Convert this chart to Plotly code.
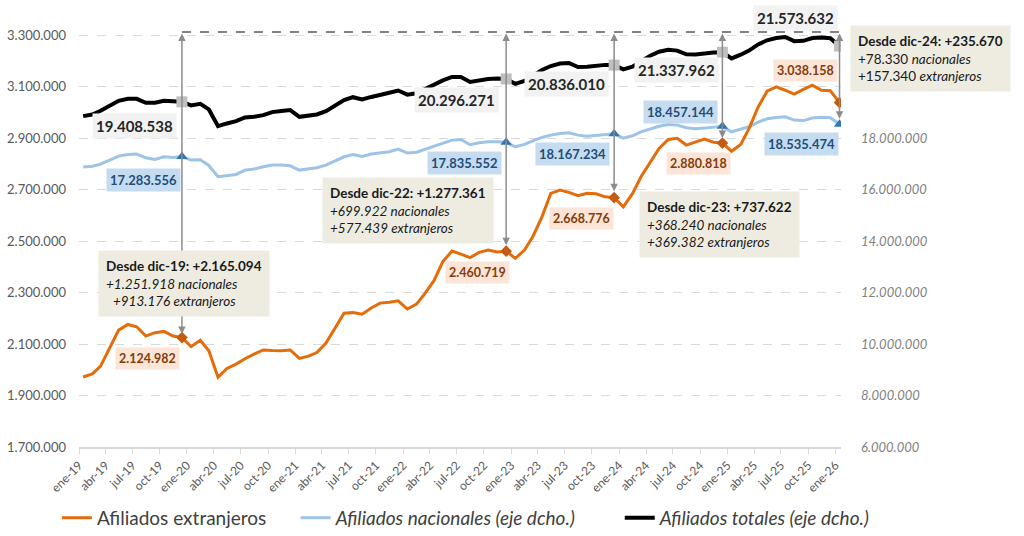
import plotly.graph_objects as go
import pandas as pd

# afiliados medios mensuales, ene-19 ... ene-26 (85 meses)
extranjeros = [
    1972000, 1984000, 2014000, 2083000, 2154000, 2176000, 2167000, 2131000, 2144000, 2149000, 2131000, 2124982,
    2090000, 2115000, 2074000, 1971000, 2005000, 2022000, 2043000, 2061000, 2077000, 2075000, 2074000, 2077000,
    2044000, 2053000, 2067000, 2104000, 2163000, 2220000, 2222000, 2216000, 2240000, 2259000, 2262000, 2268000,
    2236000, 2255000, 2296000, 2346000, 2420000, 2461000, 2449000, 2436000, 2456000, 2465000, 2458000, 2460719,
    2433000, 2465000, 2517000, 2594000, 2685000, 2698000, 2689000, 2676000, 2686000, 2684000, 2672000, 2668776,
    2633000, 2684000, 2750000, 2808000, 2860000, 2895000, 2899000, 2873000, 2884000, 2896000, 2884000, 2880818,
    2849000, 2875000, 2937000, 3021000, 3082000, 3099000, 3086000, 3071000, 3089000, 3106000, 3086000, 3084000,
    3038158,
]
nacionales = [
    16874000, 16905000, 16990000, 17146000, 17301000, 17365000, 17379000, 17236000, 17172000, 17275000, 17249000, 17283556,
    17146000, 17160000, 16938000, 16498000, 16536000, 16588000, 16757000, 16796000, 16886000, 16951000, 16951000, 16925000,
    16757000, 16796000, 16848000, 16951000, 17125000, 17275000, 17360000, 17285000, 17379000, 17437000, 17469000, 17575000,
    17420000, 17450000, 17560000, 17702000, 17810000, 17920000, 17948000, 17741000, 17819000, 17857000, 17857000, 17835552,
    17663000, 17754000, 17896000, 18026000, 18116000, 18181000, 18207000, 18116000, 18077000, 18116000, 18142000, 18167234,
    18000000, 18090000, 18240000, 18357000, 18458000, 18530000, 18505000, 18401000, 18362000, 18388000, 18414000, 18457144,
    18245000, 18337000, 18439000, 18621000, 18750000, 18802000, 18828000, 18699000, 18680000, 18780000, 18810000, 18790000,
    18535474,
]
totales = [
    18854000, 18919000, 19061000, 19243000, 19450000, 19527000, 19527000, 19372000, 19372000, 19450000, 19411000, 19408538,
    19270000, 19333000, 19114000, 18466000, 18570000, 18660000, 18803000, 18828000, 18893000, 19010000, 19049000, 19087000,
    18828000, 18867000, 18919000, 19049000, 19270000, 19480000, 19590000, 19505000, 19600000, 19700000, 19765000, 19850000,
    19690000, 19740000, 19900000, 20080000, 20240000, 20375000, 20375000, 20180000, 20255000, 20300000, 20315000, 20296271,
    20110000, 20219000, 20413000, 20650000, 20800000, 20900000, 20920000, 20760000, 20770000, 20810000, 20845000, 20836010,
    20670000, 20772000, 21000000, 21200000, 21355000, 21435000, 21400000, 21255000, 21245000, 21300000, 21325000, 21337962,
    21094000, 21240000, 21400000, 21640000, 21800000, 21890000, 21930000, 21767000, 21780000, 21890000, 21905000, 21880000,
    21573632,
]

tick_text = ['ene-19', 'abr-19', 'jul-19', 'oct-19', 'ene-20', 'abr-20', 'jul-20', 'oct-20',
             'ene-21', 'abr-21', 'jul-21', 'oct-21', 'ene-22', 'abr-22', 'jul-22', 'oct-22',
             'ene-23', 'abr-23', 'jul-23', 'oct-23', 'ene-24', 'abr-24', 'jul-24', 'oct-24',
             'ene-25', 'abr-25', 'jul-25', 'oct-25', 'ene-26']

# meses destacados: dic-19, dic-22, dic-23, dic-24, ene-26
hitos = [11, 47, 59, 71, 84]

# cajas "Desde ..."
desde_mes = ['dic-19', 'dic-22', 'dic-23', 'dic-24']
desde_total = [2165094, 1277361, 737622, 235670]
desde_nac = [1251918, 699922, 368240, 78330]
desde_ext = [913176, 577439, 369382, 157340]

FONT = 'Lato'
NB = '&nbsp;'


def fmt(v):
    return f'{v:,}'.replace(',', '.')


meses = pd.date_range('2019-01-01', periods=len(totales), freq='MS') + pd.Timedelta(days=14)
tick_vals = pd.date_range('2019-01-01', '2026-01-01', freq='3MS')
x_hitos = [meses[i] for i in hitos]

fig = go.Figure()

fig.add_trace(go.Scatter(x=meses, y=nacionales, name='<i>Afiliados nacionales (eje dcho.)</i>' + NB * 8,
                         mode='lines', line=dict(color='#9DC3E6', width=3), yaxis='y', legendrank=2))
fig.add_trace(go.Scatter(x=meses, y=totales, name='<i>Afiliados totales (eje dcho.)</i>',
                         mode='lines', line=dict(color='black', width=4), yaxis='y', legendrank=3))
fig.add_trace(go.Scatter(x=x_hitos, y=[totales[i] for i in hitos], mode='markers', showlegend=False,
                         marker=dict(symbol='square', size=11, color='#BFBFBF'), yaxis='y'))
fig.add_trace(go.Scatter(x=x_hitos, y=[nacionales[i] for i in hitos], mode='markers', showlegend=False,
                         marker=dict(symbol='triangle-up', size=10, color='#2E75B6'), yaxis='y'))
fig.add_trace(go.Scatter(x=meses, y=extranjeros, name='Afiliados extranjeros' + NB * 5,
                         mode='lines', line=dict(color='#E46C0A', width=3), yaxis='y2', legendrank=1))
fig.add_trace(go.Scatter(x=x_hitos, y=[extranjeros[i] for i in hitos], mode='markers', showlegend=False,
                         marker=dict(symbol='diamond', size=9, color='#C55A11'), yaxis='y2'))

# linea discontinua superior y flechas verticales
TOP = 3312000
fig.add_shape(type='line', xref='x', yref='y2', x0=x_hitos[0], x1=x_hitos[-1], y0=TOP, y1=TOP,
              line=dict(color='#595959', width=1.5, dash='dash'))

tips = [2139000, 2484000, 2694000, 2900000, 2975000]
for xd, tip in zip(x_hitos, tips):
    xs = xd.strftime('%Y-%m-%d')
    fig.add_annotation(x=xs, y=tip, ax=xs, ay=TOP, xref='x', yref='y2', axref='x', ayref='y2',
                       text='', showarrow=True, arrowside='end+start', arrowhead=2, startarrowhead=2,
                       arrowsize=1, startarrowsize=1, arrowwidth=1.5, arrowcolor='#8C8C8C', standoff=0)

# etiquetas de valores
tot_shift = [(-47, -24), (-50, -21), (-48, -19), (-46, -18), (-44, 28)]
nac_shift = [(-38, -23), (-42, -21), (-42, -20), (-42, 14), (-38, -20)]
ext_shift = [(-34, -21), (-29, -21), (-33, -21), (-24, -20), (-34, 32)]

for k, i in enumerate(hitos):
    fig.add_annotation(x=meses[i], y=totales[i], yref='y', text=f'<b>{fmt(totales[i])}</b>', showarrow=False,
                       xshift=tot_shift[k][0], yshift=tot_shift[k][1], bgcolor='#F2F2F2', borderpad=3,
                       font=dict(family=FONT, size=15, color='#262626'))
    fig.add_annotation(x=meses[i], y=nacionales[i], yref='y', text=f'<b>{fmt(nacionales[i])}</b>', showarrow=False,
                       xshift=nac_shift[k][0], yshift=nac_shift[k][1], bgcolor='#C5DCF0', borderpad=3,
                       font=dict(family=FONT, size=13, color='#1F4E79'))
    fig.add_annotation(x=meses[i], y=extranjeros[i], yref='y2', text=f'<b>{fmt(extranjeros[i])}</b>', showarrow=False,
                       xshift=ext_shift[k][0], yshift=ext_shift[k][1], bgcolor='#FCE4D6', borderpad=3,
                       font=dict(family=FONT, size=12.5, color='#843C0B'))

# cajas de variación
box_pos = [(0.025, 0.392), (0.319, 0.568), (0.735, 0.533), (1.012, 0.931)]
for k in range(len(desde_mes)):
    l1 = f'<b>Desde {desde_mes[k]}: +{fmt(desde_total[k])}</b>'
    if k == 3:
        l2 = f'+{fmt(desde_nac[k])} <i>nacionales</i>'
        l3 = f'+{fmt(desde_ext[k])} <i>extranjeros</i>'
    else:
        l2 = f'<i>+{fmt(desde_nac[k])} nacionales</i>'
        l3 = f'<i>+{fmt(desde_ext[k])} extranjeros</i>'
        if k == 0:
            l3 = NB * 2 + l3
    fig.add_annotation(x=box_pos[k][0], y=box_pos[k][1], xref='paper', yref='paper', xanchor='left',
                       yanchor='middle', align='left', text=f'{l1}<br>{l2}<br>{l3}', showarrow=False,
                       bgcolor='#EEECE1', borderpad=7, font=dict(family=FONT, size=13.5, color='#1A1A1A'))

fig.update_layout(
    width=1024, height=536,
    margin=dict(l=79, r=183.4, t=29.8, b=89, autoexpand=False),
    paper_bgcolor='white', plot_bgcolor='white',
    font=dict(family=FONT, color='#595959'),
    separators=',.',
    hovermode=False,
    showlegend=True,
    legend=dict(orientation='h', x=-0.029, xanchor='left', y=-0.17, yanchor='middle',
                font=dict(family=FONT, size=19, color='#404040'), bgcolor='rgba(0,0,0,0)', traceorder='normal'),
    xaxis=dict(type='date', range=['2019-01-01', '2026-01-20'], tickvals=tick_vals, ticktext=tick_text,
               tickangle=-45, ticks='outside', ticklen=5, tickcolor='#D9D9D9', showline=True,
               linecolor='#D9D9D9', linewidth=1.5, showgrid=False, zeroline=False, automargin=False,
               tickfont=dict(family=FONT, size=12, color='#595959')),
    yaxis=dict(side='right', range=[6000000, 22200000], tickvals=list(range(6000000, 18000001, 2000000)),
               tickformat=',.0f', showgrid=False, zeroline=False, ticklabelstandoff=19, automargin=False,
               tickfont=dict(family=FONT, size=13, color='#7F7F7F', style='italic')),
    yaxis2=dict(side='left', overlaying='y', range=[1700000, 3320000],
                tickvals=list(range(1700000, 3300001, 200000)), tickformat=',.0f',
                showgrid=True, gridcolor='#D9D9D9', griddash='dash', gridwidth=1, zeroline=False,
                ticklabelstandoff=12, automargin=False,
                tickfont=dict(family=FONT, size=13, color='#595959')),
)

# sin margen del body para que la figura empiece en (0, 0)
fig.write_html('out.html', config={'displayModeBar': False},
               post_script="document.body.style.margin='0';")
